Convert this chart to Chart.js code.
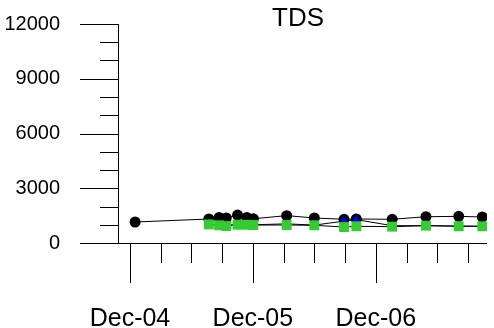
<!DOCTYPE html>
<html>
<head>
<meta charset="utf-8">
<script src="https://cdn.jsdelivr.net/npm/chart.js@4/dist/chart.umd.min.js"></script>
<style>
  html, body { margin: 0; padding: 0; background: #fff; }
  #wrap { width: 494px; height: 328px; }
</style>
</head>
<body>
<div id="wrap"><canvas id="tdsChart" width="494" height="328"></canvas></div>
<script>
// sample dates as months after Dec 2004
const sampleMonths = [0.5, 7.7, 8.7, 9.4, 10.5, 11.4, 12.05, 15.3, 18.0, 20.9, 22.1, 25.6, 28.9, 32.1, 34.4];

// TDS values
const tdsCircle = [1150, 1315, 1400, 1370, 1530, 1400, 1330, 1500, 1370, 1300, 1315, 1300, 1440, 1460, 1425];
const tdsTriangle = [null, 1050, 1000, 980, 1020, 1020, 1000, 1050, 980, 1200, 1280, 950, 950, 930, 920];
const tdsSquare = [null, 1020, 970, 930, 1000, 1000, 985, 985, 970, 875, 915, 895, 950, 915, 915];

// axis ticks
const xTickMonths = [0, 3, 6, 9, 12, 15, 18, 21, 24, 27, 30, 33];
const xTickLabels = { 0: 'Dec-04', 12: 'Dec-05', 24: 'Dec-06' };
const yMajorTicks = [0, 3000, 6000, 9000, 12000];
const yMinorTicks = [1000, 2000, 4000, 5000, 7000, 8000, 10000, 11000];

const FONT = '"Liberation Sans", Arial, sans-serif';

const toPoints = vals => vals.map((v, i) => ({ x: sampleMonths[i], y: v })).filter(p => p.y !== null);

// axis lines, ticks and the title
const axisPlugin = {
  id: 'axisPlugin',
  beforeDatasetsDraw(chart) {
    const { ctx, chartArea: a, scales: { x, y } } = chart;
    const px = v => Math.round(v) + 0.5;
    ctx.save();
    ctx.strokeStyle = '#000';
    ctx.lineWidth = 1;
    ctx.beginPath();
    ctx.moveTo(px(a.left), a.top);
    ctx.lineTo(px(a.left), a.bottom);
    ctx.moveTo(a.left, px(a.bottom));
    ctx.lineTo(a.right, px(a.bottom));
    yMajorTicks.forEach(v => {
      const p = px(y.getPixelForValue(v));
      ctx.moveTo(a.left - 38, p);
      ctx.lineTo(a.left, p);
    });
    yMinorTicks.forEach(v => {
      const p = px(y.getPixelForValue(v));
      ctx.moveTo(a.left - 18, p);
      ctx.lineTo(a.left, p);
    });
    xTickMonths.forEach(v => {
      const p = px(x.getPixelForValue(v));
      const len = xTickLabels[v] ? 40 : 20;
      ctx.moveTo(p, a.bottom);
      ctx.lineTo(p, a.bottom + len);
    });
    ctx.stroke();

    ctx.fillStyle = '#000';
    ctx.font = '26px ' + FONT;
    ctx.textAlign = 'center';
    ctx.textBaseline = 'alphabetic';
    ctx.fillText('TDS', 298, 26);
    ctx.restore();
  }
};

new Chart(document.getElementById('tdsChart'), {
  type: 'line',
  data: {
    datasets: [
      {
        label: 'Square',
        data: toPoints(tdsSquare),
        order: 0,
        borderColor: '#000',
        borderWidth: 1,
        pointStyle: 'rect',
        pointRadius: 7,
        pointBackgroundColor: '#33cc33',
        pointBorderColor: '#33cc33',
        pointBorderWidth: 0
      },
      {
        label: 'Triangle',
        data: toPoints(tdsTriangle),
        order: 1,
        borderColor: '#000',
        borderWidth: 1,
        pointStyle: 'triangle',
        pointRadius: 5,
        pointBackgroundColor: '#0000ff',
        pointBorderColor: '#0000ff',
        pointBorderWidth: 0
      },
      {
        label: 'Circle',
        data: toPoints(tdsCircle),
        order: 2,
        borderColor: '#000',
        borderWidth: 1,
        pointStyle: 'circle',
        pointRadius: 5.5,
        pointBackgroundColor: '#000',
        pointBorderColor: '#000',
        pointBorderWidth: 0
      }
    ]
  },
  options: {
    responsive: false,
    animation: false,
    layout: { padding: { top: 24, right: 6, left: 0, bottom: 0 } },
    plugins: {
      legend: { display: false },
      tooltip: { enabled: false }
    },
    scales: {
      x: {
        type: 'linear',
        min: -1.17,
        max: 34.86,
        afterFit: s => { s.height = 85; s.paddingLeft = 0; s.paddingRight = 0; },
        afterBuildTicks: s => { s.ticks = Object.keys(xTickLabels).map(v => ({ value: +v })); },
        grid: { display: false, drawTicks: false },
        border: { display: false },
        ticks: {
          autoSkip: false,
          maxRotation: 0,
          padding: 61,
          color: '#000',
          font: { family: FONT, size: 25 },
          callback: v => xTickLabels[v] || ''
        }
      },
      y: {
        min: 0,
        max: 12000,
        afterFit: s => { s.width = 118; s.paddingTop = 0; s.paddingBottom = 0; },
        afterBuildTicks: s => { s.ticks = yMajorTicks.map(v => ({ value: v })); },
        grid: { display: false, drawTicks: false },
        border: { display: false },
        ticks: {
          padding: 58,
          color: '#000',
          font: { family: FONT, size: 20 },
          callback: v => String(v)
        }
      }
    }
  },
  plugins: [axisPlugin]
});
</script>
</body>
</html>
